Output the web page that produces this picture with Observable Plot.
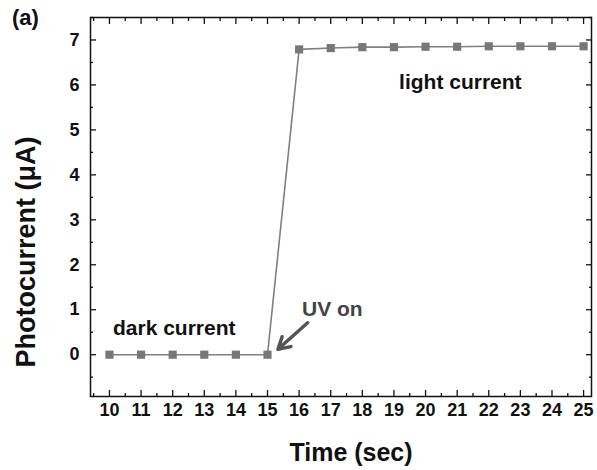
<!DOCTYPE html>
<html><head><meta charset="utf-8">
<script src="https://cdn.jsdelivr.net/npm/d3@7"></script>
<script src="https://cdn.jsdelivr.net/npm/@observablehq/plot@0.6"></script>
<style>
body{margin:0;background:#fff;}
#chart{position:relative;width:597px;height:470px;}
#tag{position:absolute;left:12px;top:7px;font:bold 22px "Liberation Sans",Arial,sans-serif;color:#111;line-height:1;}
</style></head>
<body><div id="chart"><div id="tag">(a)</div></div>
<script>
const time = [10,11,12,13,14,15,16,17,18,19,20,21,22,23,24,25];
const current = [0,0,0,0,0,0,6.79,6.82,6.84,6.84,6.85,6.85,6.86,6.86,6.86,6.86];
const xMajor = d3.range(10, 26, 1);
const xMinor = d3.range(9.5, 25.6, 1);
const yMajor = [0,1,2,3,4,5,6,7];
const yMinor = [-0.5,0.5,1.5,2.5,3.5,4.5,5.5,6.5,7.5];
const notes = [
  {x: 12.05, y: 0.58, t: "dark current", c: "#111"},
  {x: 21.1, y: 6.06, t: "light current", c: "#111"},
  {x: 17.05, y: 1.02, t: "UV on", c: "#444"}
];
const arrows = [{x1: 16.27, y1: 0.71, x2: 15.33, y2: 0.12}];

const data = time.map((t,i)=>({t, v: current[i]}));
const font = '"Liberation Sans", Arial, sans-serif';

const plot = Plot.plot({
  width: 597, height: 470,
  marginLeft: 90, marginRight: 6, marginTop: 17, marginBottom: 74,
  style: {fontFamily: font, fontSize: "18px", fontWeight: "bold", color: "#111", background: "#fff"},
  x: {domain: [9.4, 25.25]},
  y: {domain: [-0.93, 7.5]},
  marks: [
    Plot.frame({stroke: "#111", strokeWidth: 1.5}),
    // inward ticks on all four sides
    Plot.axisX(xMajor, {anchor: "bottom", tickSize: -6, tickFormat: () => "", label: null, stroke: "#111", strokeWidth: 1.3}),
    Plot.axisX(xMajor, {anchor: "top", tickSize: -6, tickFormat: () => "", label: null, stroke: "#111", strokeWidth: 1.3}),
    Plot.axisX(xMinor, {anchor: "bottom", tickSize: -3, tickFormat: () => "", label: null, stroke: "#111", strokeWidth: 1.3}),
    Plot.axisX(xMinor, {anchor: "top", tickSize: -3, tickFormat: () => "", label: null, stroke: "#111", strokeWidth: 1.3}),
    Plot.axisY(yMajor, {anchor: "left", tickSize: -6, tickFormat: () => "", label: null, stroke: "#111", strokeWidth: 1.3}),
    Plot.axisY(yMajor, {anchor: "right", tickSize: -6, tickFormat: () => "", label: null, stroke: "#111", strokeWidth: 1.3}),
    Plot.axisY(yMinor, {anchor: "left", tickSize: -3, tickFormat: () => "", label: null, stroke: "#111", strokeWidth: 1.3}),
    Plot.axisY(yMinor, {anchor: "right", tickSize: -3, tickFormat: () => "", label: null, stroke: "#111", strokeWidth: 1.3}),
    // tick labels
    Plot.axisX(xMajor, {anchor: "bottom", tickSize: 0, tickPadding: 7, label: null, fontSize: 18, fontWeight: "bold", fill: "#111"}),
    Plot.axisY(yMajor, {anchor: "left", tickSize: 0, tickPadding: 11, label: null, fontSize: 18, fontWeight: "bold", fill: "#111"}),
    // axis titles
    Plot.text(["Time (sec)"], {frameAnchor: "bottom", textAnchor: "middle", lineAnchor: "middle", dy: 56, dx: 10, fontSize: 25, fontWeight: "bold", fill: "#111"}),
    Plot.text(["Photocurrent (μA)"], {frameAnchor: "left", textAnchor: "middle", rotate: -90, dx: -64, dy: 45, fontSize: 27, fontWeight: "bold", fill: "#111"}),
    // data
    Plot.line(data, {x: "t", y: "v", stroke: "#808080", strokeWidth: 1.6}),
    Plot.dot(data, {x: "t", y: "v", symbol: "square", r: 4.6, fill: "#777", stroke: "none"}),
    Plot.text(notes, {x: "x", y: "y", text: "t", fill: "c", fontSize: 21, fontWeight: "bold"}),
    Plot.arrow(arrows, {x1: "x1", y1: "y1", x2: "x2", y2: "y2", stroke: "#555", strokeWidth: 3.5, headLength: 11})
  ]
});
document.getElementById("chart").appendChild(plot);
</script>
</body></html>
